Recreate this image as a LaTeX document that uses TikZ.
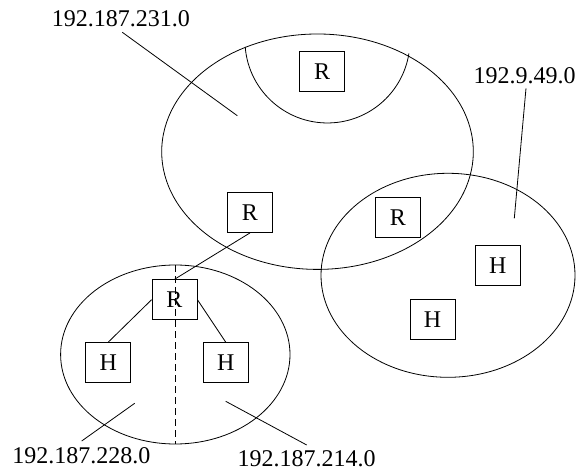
\documentclass[tikz,border=0pt]{standalone}
\usepackage{fontspec}
\setmainfont{Liberation Serif}
\begin{document}
\begin{tikzpicture}[x=1pt,y=-1pt,
  netline/.style={line width=0.8pt},
  devbox/.style={draw,line width=0.8pt,minimum width=45pt,minimum height=40pt,inner sep=0pt,font=\fontsize{24}{28}\selectfont},
  addr/.style={inner sep=0pt,text depth=0pt,anchor=base west,font=\fontsize{24}{28}\selectfont},
  sep/.style={line width=0.8pt,dash pattern=on 7pt off 4pt}]
\useasboundingbox (0,0) rectangle (578,470);
% networks
\draw[netline] (317.5,151.7) ellipse [x radius=155.8, y radius=117.7];
\draw[netline] (245.2,46.8) arc [start angle=175.6, end angle=9.1, radius=82.5];
\draw[netline] (448,275.3) ellipse [x radius=127, y radius=102];
\draw[netline] (175.3,354.5) ellipse [x radius=114.7, y radius=89.5];
% devices
\node[devbox] (r1) at (322,71.5) {R};
\node[devbox] (r2) at (250,212.5) {R};
\node[devbox] (r3) at (397.8,217.5) {R};
\node[devbox] (h1) at (497.8,265.8) {H};
\node[devbox] (h2) at (432.5,319.8) {H};
\node[devbox] (r4) at (174.5,299.7) {R};
\node[devbox] (h3) at (108.3,362.5) {H};
\node[devbox] (h4) at (225.7,362.5) {H};
% links
\draw[netline] (r2.south) -- (r4.north);
\draw[netline] (r4.west) -- (h3.north);
\draw[netline] (r4.east) -- (h4.north);
% subnet split
\coordinate (dtop) at (175.3,265);
\coordinate (dbot) at (175.3,444);
\draw[sep] (dtop) -- (dbot);
% labels
\node[addr] (a1) at (51.6,26.7) {192.187.231.0};
\node[addr] (a2) at (473.3,83.3) {192.9.49.0};
\node[addr] (a3) at (12.3,463.3) {192.187.228.0};
\node[addr] (a4) at (237.3,466) {192.187.214.0};
\coordinate (p1) at (237.3,115.7);
\coordinate (p2) at (514.3,218.3);
\coordinate (p3) at (134.7,403.3);
\coordinate (p4) at (225.7,401.3);
\draw[netline] (122.3,32.3) coordinate (q1) -- (p1);
\draw[netline] (526,88.3) coordinate (q2) -- (p2);
\draw[netline] (81.7,441) coordinate (q3) -- (p3);
\draw[netline] (306.7,445) coordinate (q4) -- (p4);
\end{tikzpicture}
\end{document}
